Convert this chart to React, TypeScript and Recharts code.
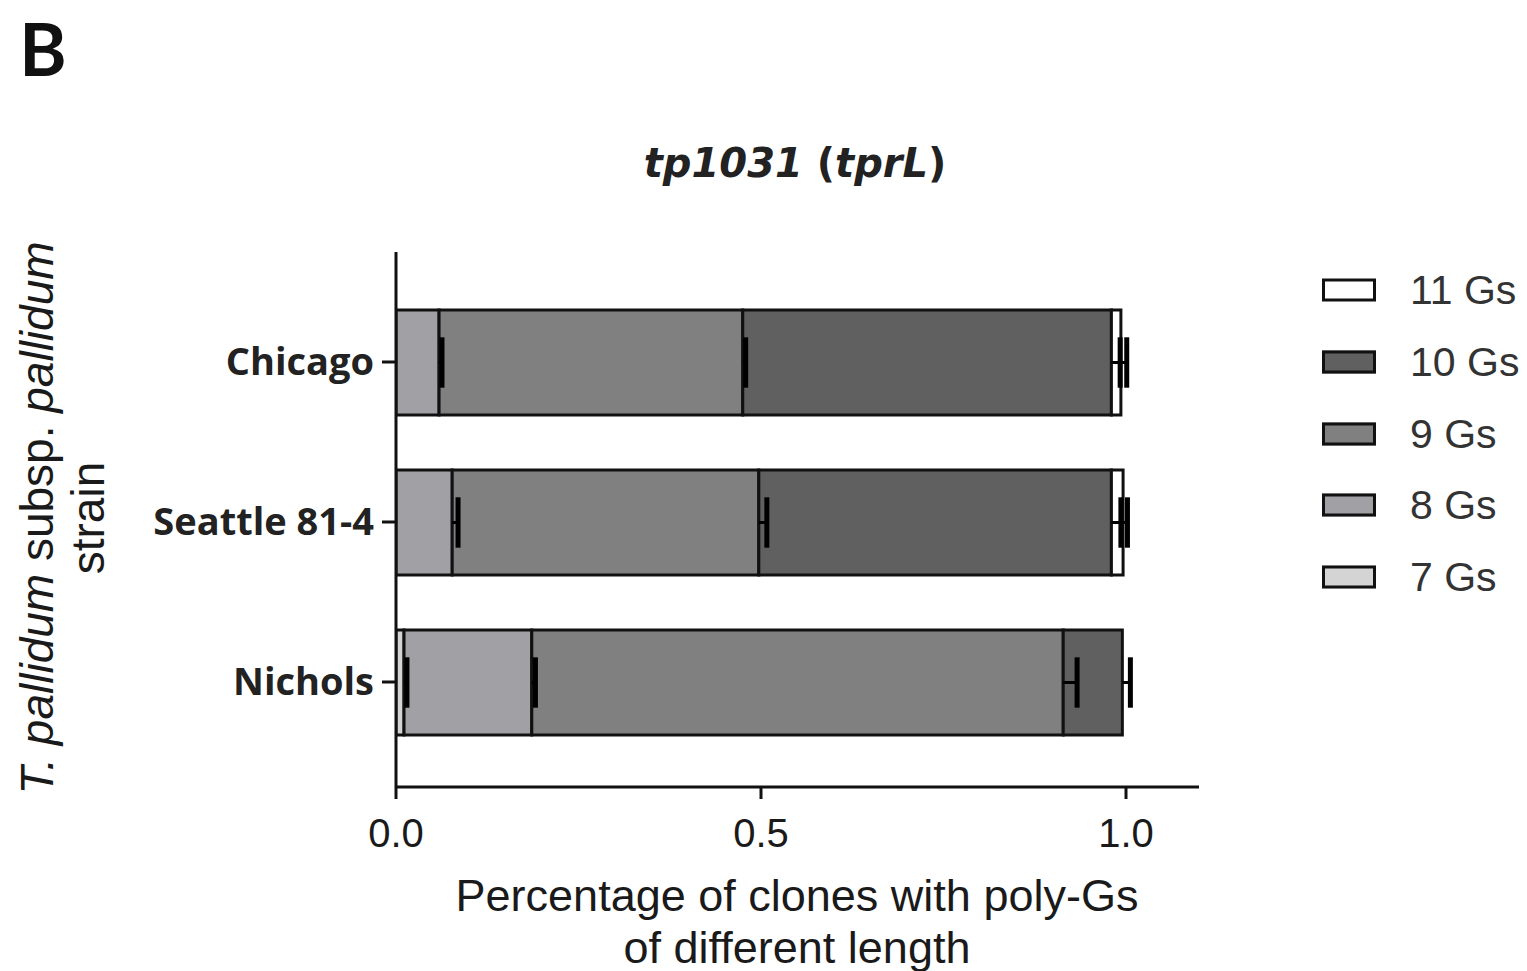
import React from 'react';
import { BarChart, Bar, XAxis, YAxis } from 'recharts';

const strains = ['Chicago', 'Seattle 81-4', 'Nichols'];

// fractions of clones per poly-G length (stacked left to right)
const g7 = [0, 0, 0.011];
const g8 = [0.059, 0.077, 0.175];
const g9 = [0.416, 0.42, 0.728];
const g10 = [0.505, 0.483, 0.081];
const g11 = [0.013, 0.016, 0];

// one-sided error (SEM) per segment
const e7 = [0, 0, 0.004];
const e8 = [0.004, 0.008, 0.005];
const e9 = [0.004, 0.011, 0.019];
const e10 = [0.012, 0.013, 0.011];
const e11 = [0.008, 0.006, 0];

const xTicks = [0, 0.5, 1.0];

const series = [
  { key: 'g7', err: 'e7', name: '7 Gs', fill: '#d4d4d4' },
  { key: 'g8', err: 'e8', name: '8 Gs', fill: '#a1a1a5' },
  { key: 'g9', err: 'e9', name: '9 Gs', fill: '#808080' },
  { key: 'g10', err: 'e10', name: '10 Gs', fill: '#606060' },
  { key: 'g11', err: 'e11', name: '11 Gs', fill: '#ffffff' },
];

const data = strains.map((name, i) => ({
  name,
  g7: g7[i], g8: g8[i], g9: g9[i], g10: g10[i], g11: g11[i],
  e7: e7[i], e8: e8[i], e9: e9[i], e10: e10[i], e11: e11[i],
}));

const SANS = '"Liberation Sans", Arial, sans-serif';

// draws whisker + cap at the right end of a stacked segment
const errShape = (key: string, errKey: string) => (props: any) => {
  const { x, y, width, height, payload } = props;
  const val = payload?.[key];
  const err = payload?.[errKey];
  if (!val || !err || !width) return <g />;
  const ppu = width / val;
  const ex = x + width;
  const ez = ex + err * ppu;
  const yc = y + height / 2;
  const half = height * 0.24;
  return (
    <g>
      <line x1={ex} x2={ez} y1={yc} y2={yc} stroke="#000" strokeWidth={3} />
      <line x1={ez} x2={ez} y1={yc - half} y2={yc + half} stroke="#000" strokeWidth={5} />
    </g>
  );
};

export default function App() {
  return (
    <div style={{ position: 'absolute', left: 0, top: 0, width: 1527, height: 971, background: '#fff' }}>
      <BarChart
        width={1527}
        height={971}
        data={data}
        layout="vertical"
        margin={{ top: 252, right: 328, bottom: 124, left: 146 }}
        barSize={105}
        barGap={-105}
      >
        <XAxis
          type="number"
          domain={[0, 1.1]}
          ticks={xTicks}
          allowDataOverflow
          tickFormatter={(v: number) => v.toFixed(1)}
          height={60}
          stroke="#111"
          strokeWidth={3}
          tickSize={12}
          tickMargin={20}
          tick={{ fill: '#1a1a1a', fontSize: 40, fontFamily: SANS }}
        />
        <YAxis
          type="category"
          dataKey="name"
          width={250}
          padding={{ top: 30, bottom: 25 }}
          stroke="#111"
          strokeWidth={3}
          tickSize={14}
          tickMargin={8}
          tick={{ fill: '#222', fontSize: 38, fontFamily: '"Open Sans", sans-serif', fontWeight: 700 }}
        />
        {series.map(s => (
          <Bar
            key={s.key}
            dataKey={s.key}
            name={s.name}
            stackId="a"
            fill={s.fill}
            stroke="#111"
            strokeWidth={3}
            isAnimationActive={false}
          />
        ))}
        {series.map(s => (
          <Bar
            key={s.err}
            dataKey={s.key}
            stackId="b"
            fill="none"
            legendType="none"
            shape={errShape(s.key, s.err)}
            isAnimationActive={false}
          />
        ))}
      </BarChart>

      <div style={{ position: 'absolute', left: 43, top: 48, transform: 'translate(-50%, -50%)', fontFamily: 'Lato, sans-serif', fontWeight: 700, fontSize: 72, color: '#111' }}>
        B
      </div>

      <div style={{ position: 'absolute', left: 795, top: 163, transform: 'translate(-50%, -50%)', whiteSpace: 'nowrap', fontFamily: '"DejaVu Sans", sans-serif', fontWeight: 700, fontSize: 40, color: '#222' }}>
        <i>tp1031</i> (<i>tprL</i>)
      </div>

      <div style={{ position: 'absolute', left: 63, top: 518, transform: 'translate(-50%, -50%) rotate(-90deg)', whiteSpace: 'nowrap', textAlign: 'center', fontFamily: SANS, fontSize: 46, lineHeight: '51px', color: '#1a1a1a' }}>
        <div><i>T. pallidum</i> subsp. <i>pallidum</i></div>
        <div>strain</div>
      </div>

      <div style={{ position: 'absolute', left: 797, top: 922, transform: 'translate(-50%, -50%)', whiteSpace: 'nowrap', textAlign: 'center', fontFamily: SANS, fontSize: 45, lineHeight: '52px', color: '#1a1a1a' }}>
        <div>Percentage of clones with poly-Gs</div>
        <div>of different length</div>
      </div>

      {[...series].reverse().map((s, i) => (
        <div key={s.key} style={{ position: 'absolute', left: 1322, top: 290 + i * 71.8, transform: 'translateY(-50%)', display: 'flex', alignItems: 'center', whiteSpace: 'nowrap' }}>
          <div style={{ width: 48, height: 17, background: s.fill, border: '3px solid #111' }} />
          <span style={{ marginLeft: 34, fontFamily: SANS, fontSize: 41, color: '#333' }}>{s.name}</span>
        </div>
      ))}
    </div>
  );
}
